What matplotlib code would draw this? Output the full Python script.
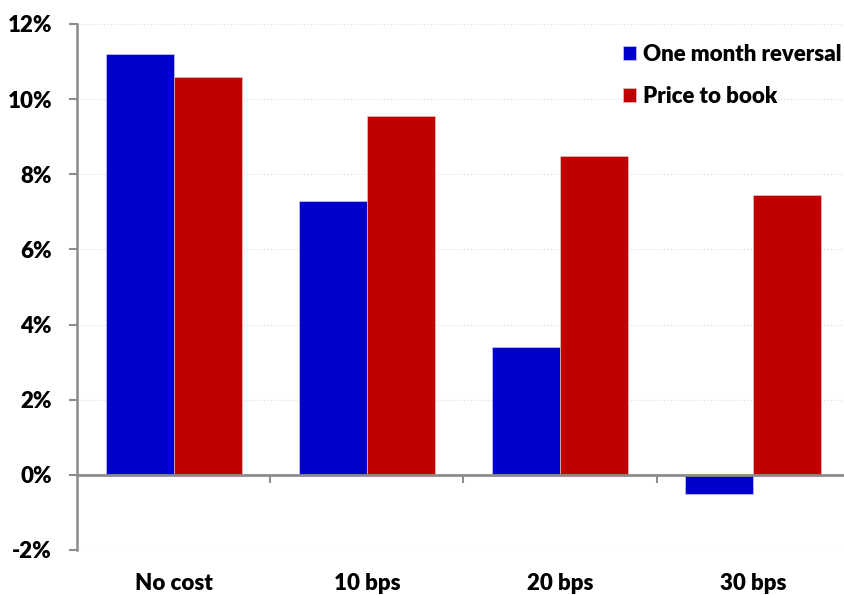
import matplotlib
matplotlib.use("Agg")
import matplotlib.pyplot as plt
from matplotlib.ticker import FuncFormatter, FixedLocator
import numpy as np

# --- Data ---
categories = ["No cost", "10 bps", "20 bps", "30 bps"]
reversal = [11.2, 7.3, 3.4, -0.5]
price_to_book = [10.6, 9.55, 8.5, 7.45]

plt.rcParams["font.family"] = ["Lato", "DejaVu Sans"]
plt.rcParams["font.weight"] = "heavy"

blue = "#0000CC"
red = "#C00000"
axis_grey = "#8C8C8C"

fig = plt.figure(figsize=(8.45, 5.95), dpi=100)
ax = fig.add_axes([77 / 845, 1 - 550 / 595, 773 / 845, 526 / 595])

x = np.arange(len(categories))
w = 0.352
ax.bar(x - w / 2, reversal, w, color=blue, edgecolor="#d8d8f0", linewidth=0.4,
       label="One month reversal", zorder=2)
ax.bar(x + w / 2, price_to_book, w, color=red, edgecolor="#f0d0d0", linewidth=0.4,
       label="Price to book", zorder=2)

# --- Axes styling ---
ax.set_xlim(-0.5, len(categories) - 0.5)
ax.set_ylim(-2, 12)
ax.set_yticks(np.arange(-2, 13, 2))
ax.yaxis.set_major_formatter(FuncFormatter(lambda v, _: f"{v:.0f}%"))
ax.tick_params(axis="y", length=6, width=1.5, color=axis_grey, pad=12,
               labelsize=16)
ax.yaxis.grid(True, linestyle=(0, (1, 2)), color="#dcdcdc", linewidth=0.8,
              zorder=0)
ax.set_axisbelow(True)

for side in ["top", "right"]:
    ax.spines[side].set_visible(False)
ax.spines["left"].set_color(axis_grey)
ax.spines["left"].set_linewidth(1.8)
ax.spines["bottom"].set_position(("data", 0))
ax.spines["bottom"].set_color(axis_grey)
ax.spines["bottom"].set_linewidth(2)
ax.spines["bottom"].set_zorder(3)

# boundary ticks on the zero line, category labels below the plot
ax.xaxis.set_major_locator(FixedLocator(x[:-1] + 0.5))
ax.xaxis.set_major_formatter(FuncFormatter(lambda v, _: ""))
ax.xaxis.set_minor_locator(FixedLocator(x))
ax.set_xticklabels(categories, minor=True)
ax.tick_params(axis="x", which="major", length=6, width=1.5, color=axis_grey)
ax.tick_params(axis="x", which="minor", length=0, pad=71, labelsize=16)

leg = ax.legend(loc="upper right", bbox_to_anchor=(1.015, 1.0), frameon=False,
                fontsize=16, handlelength=0.6, handleheight=0.6,
                handletextpad=0.3, labelspacing=0.95)

fig.savefig("out.png", dpi=100)
